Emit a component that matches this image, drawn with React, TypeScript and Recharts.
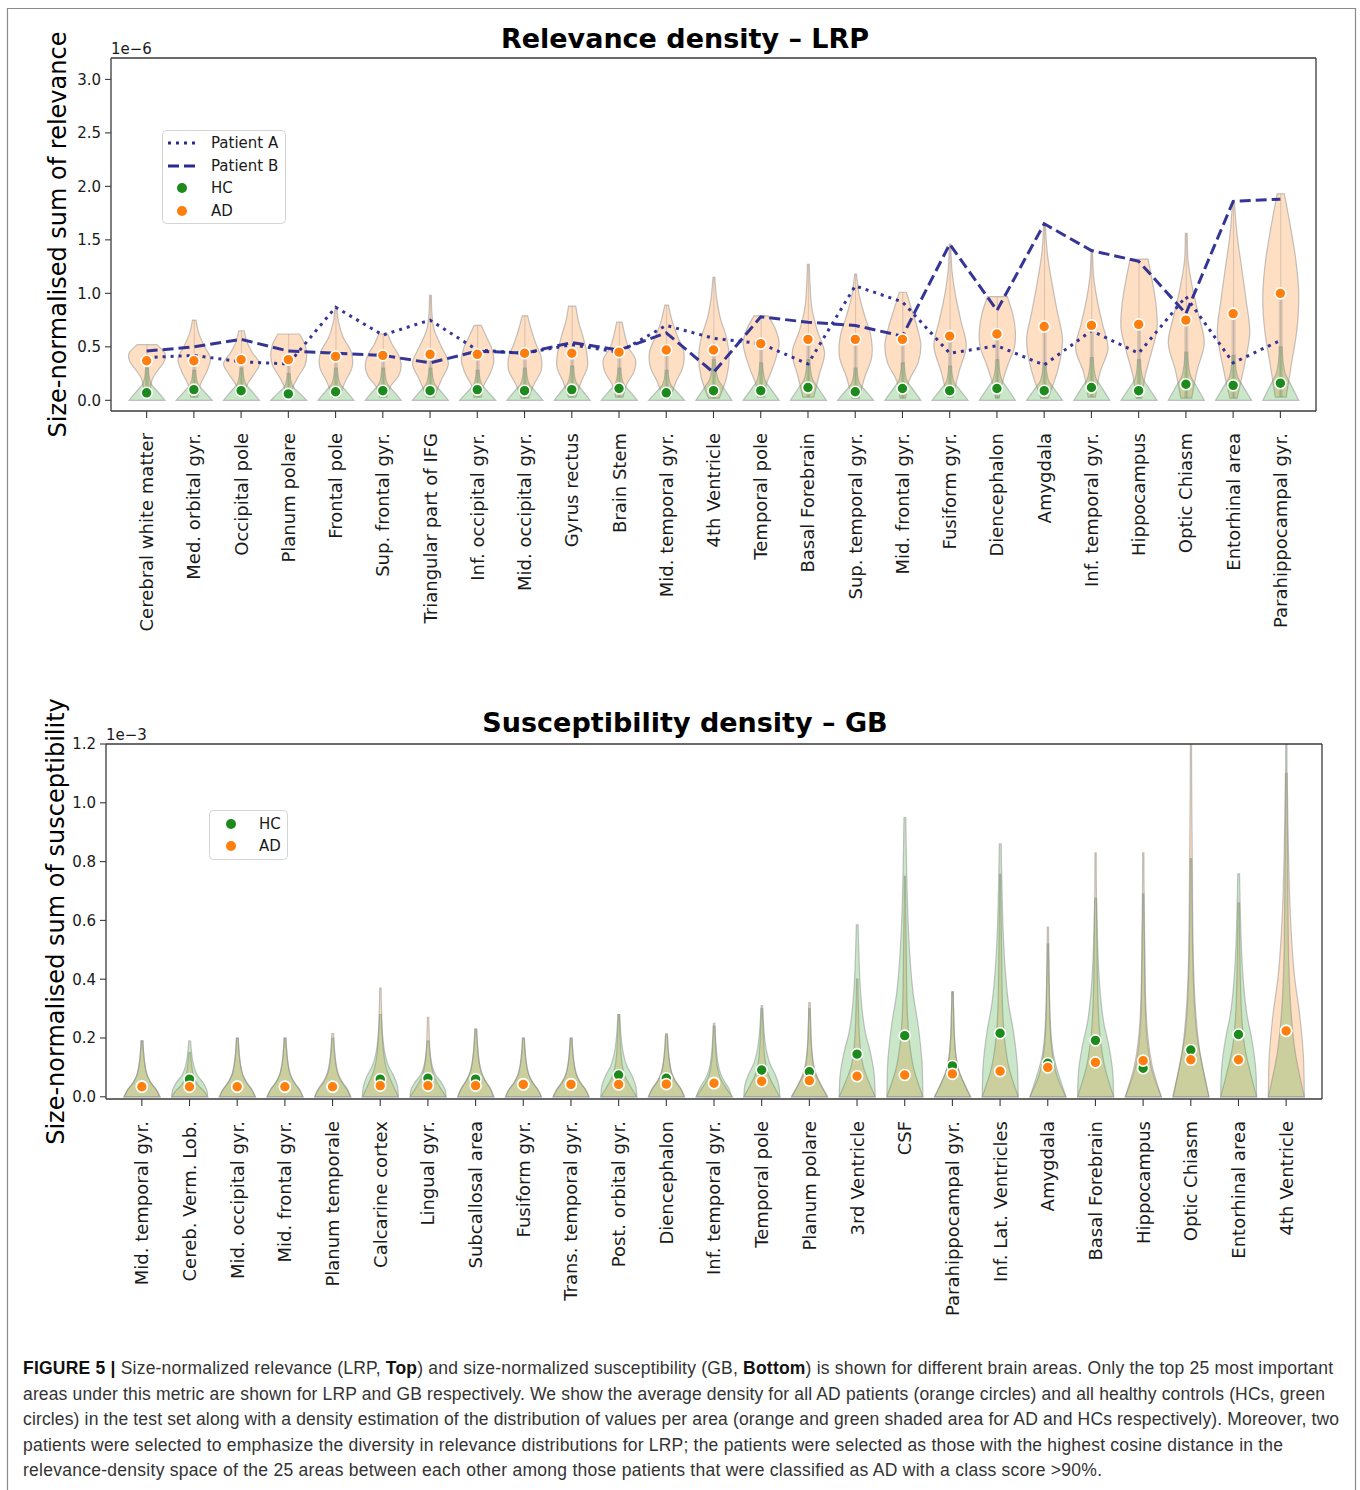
import React from "react";
import { ComposedChart, Bar, Line, Scatter, XAxis, YAxis, Legend } from "recharts";

// ---------- top panel: relevance density (LRP), values in 1e-6 ----------
const topAreas = [
  "Cerebral white matter", "Med. orbital gyr.", "Occipital pole", "Planum polare",
  "Frontal pole", "Sup. frontal gyr.", "Triangular part of IFG", "Inf. occipital gyr.",
  "Mid. occipital gyr.", "Gyrus rectus", "Brain Stem", "Mid. temporal gyr.",
  "4th Ventricle", "Temporal pole", "Basal Forebrain", "Sup. temporal gyr.",
  "Mid. frontal gyr.", "Fusiform gyr.", "Diencephalon", "Amygdala",
  "Inf. temporal gyr.", "Hippocampus", "Optic Chiasm", "Entorhinal area",
  "Parahippocampal gyr.",
];
const topAdMean = [0.37, 0.37, 0.38, 0.38, 0.41, 0.42, 0.43, 0.43, 0.44, 0.44, 0.45, 0.47, 0.47, 0.53, 0.57, 0.57, 0.57, 0.6, 0.62, 0.69, 0.7, 0.71, 0.75, 0.81, 1.0];
const topHcMean = [0.07, 0.1, 0.09, 0.06, 0.08, 0.09, 0.09, 0.1, 0.09, 0.1, 0.11, 0.07, 0.09, 0.09, 0.12, 0.08, 0.11, 0.09, 0.11, 0.09, 0.12, 0.09, 0.15, 0.14, 0.16];
const patientA = [0.4, 0.42, 0.36, 0.34, 0.87, 0.61, 0.75, 0.47, 0.44, 0.52, 0.45, 0.7, 0.58, 0.53, 0.34, 1.07, 0.92, 0.44, 0.51, 0.33, 0.65, 0.44, 0.97, 0.35, 0.56];
const patientB = [0.46, 0.5, 0.57, 0.46, 0.44, 0.42, 0.35, 0.46, 0.44, 0.54, 0.47, 0.63, 0.26, 0.78, 0.73, 0.7, 0.6, 1.46, 0.84, 1.65, 1.4, 1.3, 0.81, 1.86, 1.88];
const topAdLow = [0.04, 0.03, 0.04, 0.03, 0.03, 0.03, 0.03, 0.03, 0.02, 0.03, 0.03, 0.02, 0.02, 0.03, 0.03, 0.02, 0.02, 0.03, 0.02, 0.02, 0.03, 0.02, 0.02, 0.02, 0.03];
const topAdHigh = [0.52, 0.75, 0.65, 0.62, 0.87, 0.62, 0.98, 0.7, 0.79, 0.88, 0.73, 0.89, 1.15, 0.79, 1.27, 1.18, 1.01, 1.46, 0.97, 1.65, 1.39, 1.32, 1.56, 1.85, 1.93];
const topHcHigh = [0.3, 0.28, 0.3, 0.25, 0.3, 0.3, 0.3, 0.28, 0.3, 0.32, 0.3, 0.28, 0.38, 0.35, 0.38, 0.3, 0.35, 0.32, 0.38, 0.35, 0.4, 0.38, 0.45, 0.42, 0.5];
// violin widths (fraction of max) from the bottom of each violin to its top
const topAdShape = [
  [0.15, 0.2, 0.3, 0.6, 0.95, 1.0, 0.55],
  [0.2, 0.35, 0.7, 0.9, 0.55, 0.25, 0.1],
  [0.2, 0.3, 0.7, 1.0, 0.6, 0.3, 0.15],
  [0.15, 0.25, 0.55, 0.9, 1.0, 0.9, 0.6],
  [0.2, 0.5, 0.9, 0.85, 0.4, 0.15, 0.05],
  [0.2, 0.4, 0.85, 1.0, 0.85, 0.5, 0.25],
  [0.2, 0.6, 1.0, 0.6, 0.2, 0.08, 0.05],
  [0.2, 0.35, 0.7, 0.9, 0.8, 0.5, 0.2],
  [0.2, 0.5, 0.9, 0.9, 0.6, 0.35, 0.15],
  [0.2, 0.5, 0.85, 0.8, 0.6, 0.35, 0.2],
  [0.2, 0.4, 0.8, 0.9, 0.5, 0.3, 0.15],
  [0.2, 0.5, 0.9, 0.95, 0.6, 0.3, 0.1],
  [0.3, 0.7, 0.85, 0.7, 0.35, 0.15, 0.05],
  [0.2, 0.3, 0.6, 0.85, 1.0, 0.8, 0.4],
  [0.3, 0.6, 0.9, 0.5, 0.2, 0.1, 0.05],
  [0.2, 0.5, 0.9, 0.85, 0.5, 0.2, 0.05],
  [0.15, 0.35, 0.85, 1.0, 0.8, 0.5, 0.2],
  [0.15, 0.5, 0.9, 0.6, 0.3, 0.1, 0.04],
  [0.1, 0.3, 0.6, 0.95, 1.0, 0.85, 0.55],
  [0.2, 0.75, 1.0, 0.7, 0.4, 0.15, 0.04],
  [0.2, 0.45, 0.9, 0.6, 0.3, 0.1, 0.04],
  [0.15, 0.35, 0.7, 1.0, 0.95, 0.75, 0.5],
  [0.3, 0.6, 1.0, 0.7, 0.35, 0.1, 0.05],
  [0.2, 0.6, 0.9, 0.7, 0.45, 0.2, 0.05],
  [0.3, 0.6, 0.9, 1.0, 0.85, 0.55, 0.2],
];
const topHcShape = [1.0, 0.75, 0.5, 0.25, 0.15, 0.1, 0.08];
const topTicks = [0, 0.5, 1, 1.5, 2, 2.5, 3];

// ---------- bottom panel: susceptibility density (GB), values in 1e-3 ----------
const botAreas = [
  "Mid. temporal gyr.", "Cereb. Verm. Lob.", "Mid. occipital gyr.", "Mid. frontal gyr.",
  "Planum temporale", "Calcarine cortex", "Lingual gyr.", "Subcallosal area",
  "Fusiform gyr.", "Trans. temporal gyr.", "Post. orbital gyr.", "Diencephalon",
  "Inf. temporal gyr.", "Temporal pole", "Planum polare", "3rd Ventricle", "CSF",
  "Parahippocampal gyr.", "Inf. Lat. Ventricles", "Amygdala", "Basal Forebrain",
  "Hippocampus", "Optic Chiasm", "Entorhinal area", "4th Ventricle",
];
const botAdMean = [0.034, 0.034, 0.034, 0.034, 0.034, 0.038, 0.038, 0.038, 0.042, 0.042, 0.042, 0.043, 0.046, 0.053, 0.055, 0.07, 0.074, 0.078, 0.087, 0.1, 0.117, 0.123, 0.126, 0.126, 0.224];
const botHcMean = [0.036, 0.06, 0.035, 0.035, 0.035, 0.06, 0.063, 0.06, 0.043, 0.043, 0.074, 0.063, 0.048, 0.091, 0.085, 0.145, 0.208, 0.105, 0.216, 0.114, 0.192, 0.097, 0.159, 0.212, 0.225];
const botAdHigh = [0.19, 0.15, 0.2, 0.2, 0.215, 0.37, 0.27, 0.23, 0.2, 0.2, 0.28, 0.215, 0.25, 0.31, 0.32, 0.4, 0.75, 0.357, 0.757, 0.577, 0.83, 0.83, 1.2, 0.66, 1.1];
const botHcHigh = [0.19, 0.19, 0.2, 0.2, 0.2, 0.28, 0.19, 0.23, 0.2, 0.2, 0.28, 0.21, 0.24, 0.3, 0.3, 0.585, 0.95, 0.357, 0.86, 0.52, 0.675, 0.69, 0.81, 0.758, 1.2];
const botShapes: Record<string, number[]> = {
  short: [1.0, 0.8, 0.5, 0.3, 0.2, 0.14, 0.1, 0.07, 0.05],
  mid: [1.0, 0.65, 0.35, 0.2, 0.13, 0.09, 0.07, 0.05, 0.04],
  tall: [1.0, 0.5, 0.25, 0.14, 0.1, 0.08, 0.06, 0.04, 0.03],
  broad: [1.0, 0.95, 0.75, 0.45, 0.28, 0.18, 0.12, 0.08, 0.05],
};
const botAdShapeKey = ["short", "short", "short", "short", "short", "mid", "mid", "short", "short", "short", "mid", "short", "mid", "mid", "mid", "mid", "tall", "mid", "tall", "tall", "tall", "tall", "tall", "mid", "broad"];
const botHcShapeKey = ["short", "broad", "short", "short", "short", "broad", "broad", "short", "short", "short", "broad", "short", "short", "broad", "mid", "broad", "broad", "mid", "broad", "mid", "broad", "tall", "mid", "broad", "tall"];
const botTicks = [0, 0.2, 0.4, 0.6, 0.8, 1.0, 1.2];

const topData = topAreas.map((name, i) => ({
  name,
  ad: topAdMean[i],
  hc: topHcMean[i],
  patientA: patientA[i],
  patientB: patientB[i],
  adRange: [topAdLow[i], topAdHigh[i]],
  hcRange: [0, topHcHigh[i]],
  adShape: topAdShape[i],
  hcShape: topHcShape,
}));

const botData = botAreas.map((name, i) => ({
  name,
  ad: botAdMean[i],
  hc: botHcMean[i],
  adRange: [0, botAdHigh[i]],
  hcRange: [0, botHcHigh[i]],
  adShape: botShapes[botAdShapeKey[i]],
  hcShape: botShapes[botHcShapeKey[i]],
}));

const ORANGE = "#ff7f0e";
const GREEN = "#1c8a1c";
const LINE = "#2a2a90";
const AXIS = "#3a3a3a";
const FONT = "DejaVu Sans";

/** Catmull-Rom through the points, returned as cubic segments (no moveTo) */
function curveThrough(pts: number[][]) {
  let d = "";
  for (let i = 0; i < pts.length - 1; i++) {
    const p0 = pts[i - 1] || pts[i];
    const p1 = pts[i];
    const p2 = pts[i + 1];
    const p3 = pts[i + 2] || p2;
    const c1x = p1[0] + (p2[0] - p0[0]) / 6;
    const c1y = p1[1] + (p2[1] - p0[1]) / 6;
    const c2x = p2[0] - (p3[0] - p1[0]) / 6;
    const c2y = p2[1] - (p3[1] - p1[1]) / 6;
    d += ` C${c1x},${c1y} ${c2x},${c2y} ${p2[0]},${p2[1]}`;
  }
  return d;
}

/** Bar shape that turns the [low, high] range rect into a violin */
function Violin(props: any) {
  const { x, y, width, height, payload, shapeKey, color, stalk } = props;
  if (x == null || y == null) return null;
  const profile: number[] = payload[shapeKey];
  const top = Math.min(y, y + height);
  const h = Math.abs(height);
  const cx = x + width / 2;
  const hw = width / 2;
  const n = profile.length;
  const yAt = (i: number) => top + h - (h * i) / (n - 1);
  const right = profile.map((w, i) => [cx + Math.max(w * hw, 0.6), yAt(i)]);
  const left = profile.map((w, i) => [cx - Math.max(w * hw, 0.6), yAt(i)]).reverse();
  const d =
    `M${right[0][0]},${right[0][1]}` +
    curveThrough(right) +
    ` L${left[0][0]},${left[0][1]}` +
    curveThrough(left) +
    " Z";
  let stalkEl = null;
  if (stalk) {
    const [lo, hi] = payload.adRange;
    const yMean = top + (h * (hi - payload.ad)) / (hi - lo);
    stalkEl = (
      <g>
        <line x1={cx} x2={cx} y1={top + h} y2={top} stroke="#8a8a8a" strokeOpacity={0.35} strokeWidth={1} />
        <rect x={cx - 2} y={yMean} width={4} height={top + h - yMean} fill="#8a8a8a" fillOpacity={0.3} />
      </g>
    );
  }
  return (
    <g>
      <path d={d} fill={color} fillOpacity={0.25} stroke="#8c8c8c" strokeOpacity={0.5} strokeWidth={1.2} />
      {stalkEl}
    </g>
  );
}

function Dot(props: any) {
  const { cx, cy, fill } = props;
  if (cx == null || cy == null) return null;
  return <circle cx={cx} cy={cy} r={5.5} fill={fill} stroke="#ffffff" strokeWidth={1.6} />;
}

function RotatedTick(props: any) {
  const { x, y, payload } = props;
  return (
    <g transform={`translate(${x},${y})`}>
      <text
        x={-15}
        y={0}
        dy="0.36em"
        textAnchor="end"
        transform="rotate(-90)"
        fontSize={18}
        fontFamily={FONT}
        fill="#1a1a1a"
      >
        {payload.value}
      </text>
    </g>
  );
}

function TopLegend() {
  return (
    <svg width={124} height={94} style={{ display: "block" }} fontFamily={FONT} fontSize={15}>
      <rect x={0.5} y={0.5} width={123} height={93} rx={4} fill="#fff" fillOpacity={0.8} stroke="#d4d4d4" />
      <line x1={6} x2={34} y1={13} y2={13} stroke={LINE} strokeWidth={3} strokeDasharray="3 5" />
      <line x1={6} x2={34} y1={36} y2={36} stroke={LINE} strokeWidth={3} strokeDasharray="11 5" />
      <circle cx={20} cy={58} r={5} fill={GREEN} />
      <circle cx={20} cy={81} r={5} fill={ORANGE} />
      <text x={49} y={13} dy="0.36em" fill="#1a1a1a">Patient A</text>
      <text x={49} y={36} dy="0.36em" fill="#1a1a1a">Patient B</text>
      <text x={49} y={58} dy="0.36em" fill="#1a1a1a">HC</text>
      <text x={49} y={81} dy="0.36em" fill="#1a1a1a">AD</text>
    </svg>
  );
}

function BottomLegend() {
  return (
    <svg width={79} height={50} style={{ display: "block" }} fontFamily={FONT} fontSize={15}>
      <rect x={0.5} y={0.5} width={78} height={49} rx={4} fill="#fff" fillOpacity={0.8} stroke="#d4d4d4" />
      <circle cx={22} cy={14} r={5} fill={GREEN} />
      <circle cx={22} cy={36} r={5} fill={ORANGE} />
      <text x={50} y={14} dy="0.36em" fill="#1a1a1a">HC</text>
      <text x={50} y={36} dy="0.36em" fill="#1a1a1a">AD</text>
    </svg>
  );
}

const yTick = { fontSize: 15, fontFamily: FONT, fill: "#1a1a1a" };
const axisLine = { stroke: AXIS, strokeWidth: 1.3 };
const tickLine = { stroke: AXIS, strokeWidth: 1.1 };

function TopChart() {
  return (
    <ComposedChart
      width={1360}
      height={660}
      data={topData}
      margin={{ top: 57, right: 43, left: 51, bottom: 0 }}
      barSize={36}
    >
      <XAxis
        dataKey="name"
        interval={0}
        height={249}
        padding={{ left: 12, right: 12 }}
        tick={RotatedTick}
        tickSize={7}
        tickMargin={0}
        axisLine={axisLine}
        tickLine={tickLine}
      />
      <XAxis xAxisId="hc" dataKey="name" hide padding={{ left: 12, right: 12 }} />
      <XAxis xAxisId="frame" dataKey="name" orientation="top" height={1} tick={false} tickLine={false} axisLine={axisLine} />
      <YAxis
        type="number"
        domain={[-0.1, 3.2]}
        allowDataOverflow
        ticks={topTicks}
        tickFormatter={(v: number) => v.toFixed(1)}
        width={60}
        tick={yTick}
        tickSize={6}
        tickMargin={4}
        axisLine={axisLine}
        tickLine={tickLine}
      />
      <YAxis yAxisId="frame" orientation="right" width={1} domain={[0, 1]} tick={false} tickLine={false} axisLine={axisLine} />
      <Legend
        layout="horizontal"
        align="center"
        verticalAlign="middle"
        content={() => <TopLegend />}
        wrapperStyle={{ left: 162, top: 130, width: 124, height: 94 }}
      />
      <Bar dataKey="adRange" isAnimationActive={false} shape={(p: any) => <Violin {...p} shapeKey="adShape" color={ORANGE} stalk />} />
      <Bar dataKey="hcRange" xAxisId="hc" isAnimationActive={false} shape={(p: any) => <Violin {...p} shapeKey="hcShape" color="#2ca02c" />} />
      <Line dataKey="patientA" type="linear" stroke={LINE} strokeOpacity={0.95} strokeWidth={3} strokeDasharray="3 5" dot={false} activeDot={false} isAnimationActive={false} />
      <Line dataKey="patientB" type="linear" stroke={LINE} strokeOpacity={0.95} strokeWidth={3} strokeDasharray="11 5" dot={false} activeDot={false} isAnimationActive={false} />
      <Scatter dataKey="hc" fill={GREEN} shape={Dot} isAnimationActive={false} />
      <Scatter dataKey="ad" fill={ORANGE} shape={Dot} isAnimationActive={false} />
    </ComposedChart>
  );
}

function BottomChart() {
  return (
    <ComposedChart
      width={1360}
      height={660}
      data={botData}
      margin={{ top: 63, right: 37, left: 46, bottom: 0 }}
      barSize={36}
    >
      <XAxis
        dataKey="name"
        interval={0}
        height={241}
        padding={{ left: 12, right: 12 }}
        tick={RotatedTick}
        tickSize={7}
        tickMargin={0}
        axisLine={axisLine}
        tickLine={tickLine}
      />
      <XAxis xAxisId="hc" dataKey="name" hide padding={{ left: 12, right: 12 }} />
      <XAxis xAxisId="frame" dataKey="name" orientation="top" height={1} tick={false} tickLine={false} axisLine={axisLine} />
      <YAxis
        type="number"
        domain={[-0.0075, 1.2]}
        allowDataOverflow
        ticks={botTicks}
        tickFormatter={(v: number) => v.toFixed(1)}
        width={60}
        tick={yTick}
        tickSize={6}
        tickMargin={4}
        axisLine={axisLine}
        tickLine={tickLine}
      />
      <YAxis yAxisId="frame" orientation="right" width={1} domain={[0, 1]} tick={false} tickLine={false} axisLine={axisLine} />
      <Legend
        layout="horizontal"
        align="center"
        verticalAlign="middle"
        content={() => <BottomLegend />}
        wrapperStyle={{ left: 209, top: 130, width: 79, height: 50 }}
      />
      <Bar dataKey="adRange" isAnimationActive={false} shape={(p: any) => <Violin {...p} shapeKey="adShape" color={ORANGE} />} />
      <Bar dataKey="hcRange" xAxisId="hc" isAnimationActive={false} shape={(p: any) => <Violin {...p} shapeKey="hcShape" color="#2ca02c" />} />
      <Scatter dataKey="hc" fill={GREEN} shape={Dot} isAnimationActive={false} />
      <Scatter dataKey="ad" fill={ORANGE} shape={Dot} isAnimationActive={false} />
    </ComposedChart>
  );
}

const captionLines = [
  { end: 1333, parts: [["FIGURE 5 | ", true], ["Size-normalized relevance (LRP, ", false], ["Top", true], [") and size-normalized susceptibility (GB, ", false], ["Bottom", true], [") is shown for different brain areas. Only the top 25 most important", false]] },
  { end: 1325, parts: [["areas under this metric are shown for LRP and GB respectively. We show the average density for all AD patients (orange circles) and all healthy controls (HCs, green", false]] },
  { end: 1339, parts: [["circles) in the test set along with a density estimation of the distribution of values per area (orange and green shaded area for AD and HCs respectively). Moreover, two", false]] },
  { end: 1283, parts: [["patients were selected to emphasize the diversity in relevance distributions for LRP; the patients were selected as those with the highest cosine distance in the", false]] },
  { end: 1102, parts: [["relevance-density space of the 25 areas between each other among those patients that were classified as AD with a class score >90%.", false]] },
];

export default function App() {
  return (
    <div style={{ position: "relative", width: 1360, height: 1490, background: "#fff", overflow: "hidden" }}>
      <style>{"body{margin:0;}"}</style>
      <svg width={1360} height={1490} style={{ position: "absolute", left: 0, top: 0 }}>
        <path d="M7.5,1490 L7.5,8.5 L1355.5,8.5 L1355.5,1490" fill="none" stroke="#8a8a8a" strokeWidth={1.2} />
        <text x={685} y={48} textAnchor="middle" fontFamily={FONT} fontWeight="bold" fontSize={27} fill="#000">
          Relevance density – LRP
        </text>
        <text x={685} y={732} textAnchor="middle" fontFamily={FONT} fontWeight="bold" fontSize={27} fill="#000">
          Susceptibility density – GB
        </text>
        <text transform="translate(57,234.5) rotate(-90)" dy="0.36em" textAnchor="middle" fontFamily={FONT} fontSize={24} fill="#000">
          Size-normalised sum of relevance
        </text>
        <text transform="translate(55,921.5) rotate(-90)" dy="0.36em" textAnchor="middle" fontFamily={FONT} fontSize={24} fill="#000">
          Size-normalised sum of susceptibility
        </text>
        <text x={111} y={54} fontFamily={FONT} fontSize={15} fill="#1a1a1a">1e−6</text>
        <text x={106} y={740} fontFamily={FONT} fontSize={15} fill="#1a1a1a">1e−3</text>
        {captionLines.map((ln, i) => (
          <text
            key={i}
            x={23}
            y={1374 + i * 25.5}
            fontFamily="Liberation Sans, Arial, sans-serif"
            fontSize={17.5}
            fill="#333"
            textLength={ln.end - 23}
            lengthAdjust="spacing"
          >
            {ln.parts.map((p, j) => (
              <tspan key={j} fontWeight={p[1] ? "bold" : "normal"} fill={p[1] ? "#111" : "#333"}>
                {p[0] as string}
              </tspan>
            ))}
          </text>
        ))}
      </svg>
      <div style={{ position: "absolute", left: 0, top: 0 }}>
        <TopChart />
      </div>
      <div style={{ position: "absolute", left: 0, top: 680 }}>
        <BottomChart />
      </div>
    </div>
  );
}
